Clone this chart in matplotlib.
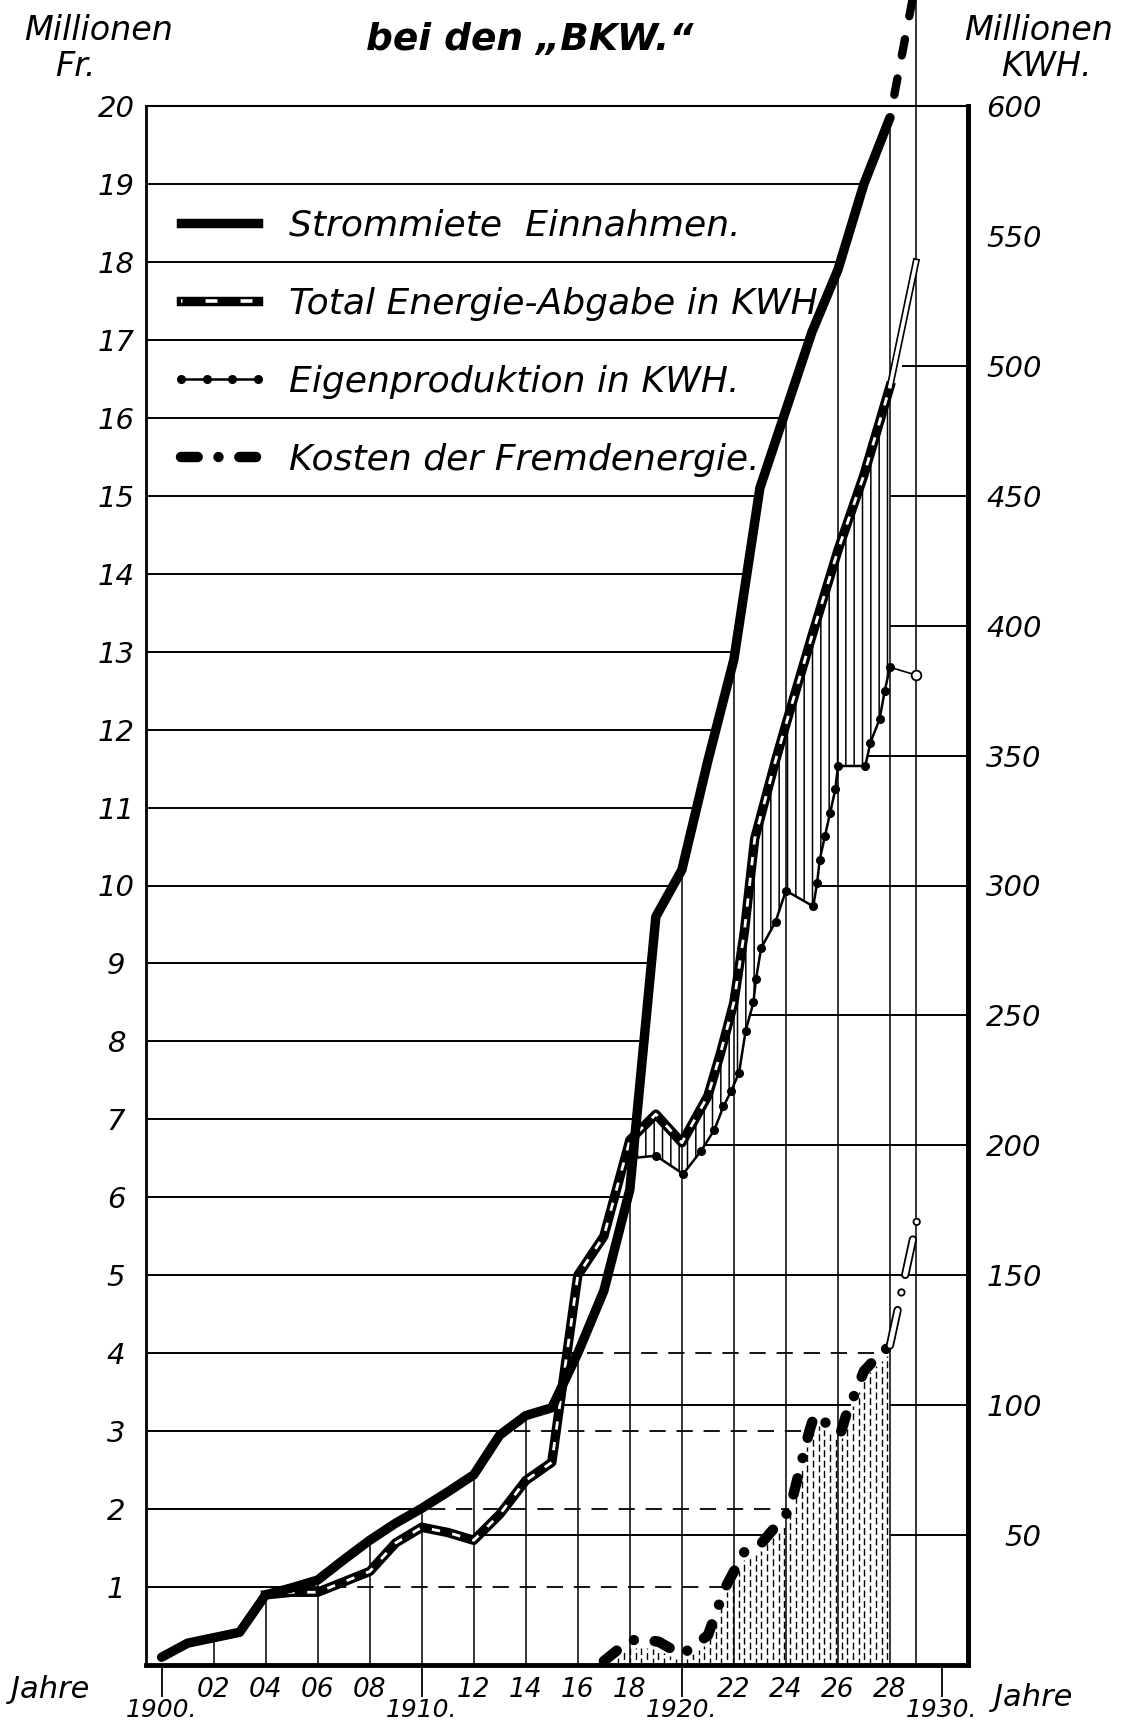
import numpy as np
import matplotlib as mpl
mpl.use('Agg')
import matplotlib.pyplot as plt
from matplotlib.lines import Line2D

# ---- values ----
# Strommiete Einnahmen (Mio. Fr.)
strom_years = list(range(1900, 1929))
strom_mfr = [0.10, 0.28, 0.35, 0.42, 0.90, 0.99, 1.09, 1.35, 1.60, 1.82,
             2.01, 2.22, 2.44, 2.95, 3.20, 3.30, 4.00, 4.80, 6.10, 9.60,
             10.20, 11.60, 12.90, 15.10, 16.10, 17.10, 17.90, 19.00, 19.85]
strom_est_year = 1929
strom_est_mfr = 21.6          # runs off the top of the sheet

# Total Energie-Abgabe (Mio. kWh)
total_years = [1904, 1905, 1906, 1907, 1908, 1909, 1910, 1911, 1912, 1913,
               1914, 1915, 1916, 1917, 1918, 1919, 1920, 1921, 1921.5, 1922,
               1922.4, 1922.8, 1923.6, 1924, 1925, 1926, 1927, 1928]
total_kwh = [27, 28, 28, 32, 36, 47, 53, 51, 48, 58,
             71, 78, 150, 165, 202, 212, 201, 219, 236, 255,
             282, 318, 348, 362, 396, 429, 458, 492]
total_est_year = 1929
total_est_kwh = 540

# Eigenproduktion (Mio. kWh)
eigen_years = [1918.0, 1919.0, 1920.05, 1920.75, 1921.25, 1921.6, 1921.9,
               1922.2, 1922.45, 1922.75, 1922.85, 1923.05, 1923.6, 1924.0,
               1925.05, 1925.2, 1925.3, 1925.5, 1925.7, 1925.9, 1926.0,
               1927.05, 1927.25, 1927.6, 1927.8, 1928.0]
eigen_kwh = [195, 196, 189, 198, 206, 215, 221,
             228, 244, 255, 264, 276, 286, 298,
             292, 301, 310, 319, 328, 337, 346,
             346, 355, 364, 375, 384]
eigen_est_year = 1929
eigen_est_kwh = 381

# Kosten der Fremdenergie (Mio. Fr.)
kost_years = [1917.0, 1918.0, 1918.6, 1919.1, 1920.0, 1920.5, 1921.0, 1921.65,
              1922.4, 1923.0, 1924.1, 1924.3, 1924.9, 1925.1, 1926.1, 1926.3,
              1927.0, 1927.5, 1928.0]
kost_mfr = [0.05, 0.32, 0.32, 0.30, 0.13, 0.26, 0.38, 0.98,
            1.45, 1.54, 1.97, 2.20, 3.00, 3.21, 2.97, 3.19,
            3.77, 3.95, 4.10]
kost_est_year = 1929.05
kost_est_mfr = 5.72

KWH_PER_FR = 30   # 20 Mio Fr. <-> 600 Mio kWh

fr_ticks = list(range(1, 21))
kwh_ticks = list(range(50, 601, 50))
x_major = [1900, 1910, 1920, 1930]
x_major_labels = ['1900.', '1910.', '1920.', '1930.']
x_minor = [1902, 1904, 1906, 1908, 1912, 1914, 1916, 1918,
           1922, 1924, 1926, 1928]
x_minor_labels = ['02', '04', '06', '08', '12', '14', '16', '18',
                  '22', '24', '26', '28']
grid_years = list(range(1902, 1929, 2))

legend_labels = ['Strommiete  Einnahmen.', 'Total Energie-Abgabe in KWH.',
                 'Eigenproduktion in KWH.', 'Kosten der Fremdenergie.']


def first_cross(xs, ys, level):
    for x0, x1, y0, y1 in zip(xs[:-1], xs[1:], ys[:-1], ys[1:]):
        if y0 < level <= y1:
            return x0 + (level - y0) / (y1 - y0) * (x1 - x0)
    return None


def last_cross(xs, ys, level):
    segs = list(zip(xs[:-1], xs[1:], ys[:-1], ys[1:]))
    for x0, x1, y0, y1 in reversed(segs):
        if y0 < level <= y1:
            return x0 + (level - y0) / (y1 - y0) * (x1 - x0)
    return None


plt.rcParams['font.family'] = 'DejaVu Sans'
plt.rcParams['font.style'] = 'italic'
plt.rcParams['hatch.linewidth'] = 1.1

fig = plt.figure(figsize=(11.27, 17.22), dpi=100)
ax = fig.add_axes([146 / 1127, 57 / 1722, 822 / 1127, 1559 / 1722])
ax.set_xlim(1899.4, 1931.0)
ax.set_ylim(0, 20)
x0, x1 = ax.get_xlim()

total_fr = np.array(total_kwh) / KWH_PER_FR
eigen_fr = np.array(eigen_kwh) / KWH_PER_FR

# horizontal rulings (Fr.) from the left edge up to the Strommiete curve
for lvl in fr_ticks[:-1]:
    xe = first_cross(strom_years, strom_mfr, lvl)
    ax.hlines(lvl, x0, xe, color='k', lw=1.4, zorder=1)

# dashed guides to the Kosten curve
for lvl in [1, 2, 3, 4]:
    xs = first_cross(strom_years, strom_mfr, lvl) + 0.35
    xe = first_cross(kost_years, kost_mfr, lvl)
    ax.hlines(lvl, xs, xe, color='k', lw=1.3, linestyles=(0, (9, 6)), zorder=1)

# horizontal rulings (kWh) from the right edge back to the kWh curves
low_years = [y for y in total_years if y < eigen_years[0]] + eigen_years
low_kwh = [v for y, v in zip(total_years, total_kwh) if y < eigen_years[0]] + eigen_kwh
for kwh in kwh_ticks[:-1]:
    if kwh <= eigen_kwh[-1]:
        xs = last_cross(low_years, low_kwh, kwh)
    elif kwh <= total_kwh[-1]:
        xs = eigen_years[-1]
    elif kwh <= total_est_kwh:
        xs = first_cross([total_years[-1], total_est_year],
                         [total_kwh[-1], total_est_kwh], kwh) + 0.3
    else:
        continue
    ax.hlines(kwh / KWH_PER_FR, xs, x1, color='k', lw=1.4, zorder=1)

# Kosten area: white ground + dashed vertical hatching
ax.fill_between(kost_years, 0, kost_mfr, color='white', lw=0, zorder=2)
hx = np.arange(kost_years[0] + 0.12, kost_years[-1], 0.22)
hy = np.interp(hx, kost_years, kost_mfr) - 0.1
ax.vlines(hx[::2], 0, hy[::2], color='k', lw=1.0, linestyles=(0, (5, 2.5)), zorder=2.5)
ax.vlines(hx[1::2], 0, hy[1::2], color='k', lw=1.0, linestyles=(3.5, (5, 2.5)), zorder=2.5)

# vertical rulings up to the Strommiete curve
ax.vlines(grid_years, 0, np.interp(grid_years, strom_years, strom_mfr),
          color='k', lw=1.1, zorder=3)
ax.axvline(1929, 0, 1.08, color='k', lw=1.1, clip_on=False, zorder=3)

# hatched gap between total and own production
hx2 = np.union1d(eigen_years, [y for y in total_years if eigen_years[0] <= y <= eigen_years[-1]])
top = np.interp(hx2, total_years, total_fr)
bot = np.interp(hx2, eigen_years, eigen_fr)
ax.fill_between(hx2, bot, top, facecolor='none', edgecolor='k', hatch='||', lw=0, zorder=2.6)

# Strommiete Einnahmen
ax.plot(strom_years, strom_mfr, color='k', lw=6.8, solid_joinstyle='round',
        solid_capstyle='round', zorder=6)
ax.plot([strom_years[-1], strom_est_year], [strom_mfr[-1], strom_est_mfr], color='k',
        lw=6, linestyle=(2, (2, 2.8)), dash_capstyle='round', clip_on=False, zorder=6)

# Total Energie-Abgabe
ax.plot(total_years, total_fr, color='k', lw=6.8, solid_joinstyle='round', zorder=5)
ax.plot(total_years, total_fr, color='white', lw=2.0, linestyle=(0, (3, 4.5)), zorder=5.1)
ax.plot([total_years[-1], total_est_year], [total_fr[-1], total_est_kwh / KWH_PER_FR],
        color='k', lw=5, zorder=5)
ax.plot([total_years[-1], total_est_year], [total_fr[-1], total_est_kwh / KWH_PER_FR],
        color='white', lw=2.6, zorder=5.1)

# Eigenproduktion
ax.plot(eigen_years, eigen_fr, color='k', lw=1.8, marker='o', ms=5.5, zorder=7)
ax.plot([eigen_years[-1], eigen_est_year], [eigen_fr[-1], eigen_est_kwh / KWH_PER_FR],
        color='k', lw=1.2, marker='o', markevery=[1], mfc='white', mec='k', ms=7,
        mew=1.3, zorder=7)

# Kosten der Fremdenergie
kost_style = (0, (1.6, 2.0, 0.001, 2.0))
ax.plot(kost_years, kost_mfr, color='k', lw=7.5, linestyle=kost_style,
        dash_capstyle='round', zorder=6)
ax.plot([kost_years[-1], kost_est_year], [kost_mfr[-1], kost_est_mfr], color='k', lw=6,
        linestyle=(0, (26 / 6, 13 / 6, 0.001, 13 / 6)), dash_capstyle='round', zorder=6)
ax.plot([kost_years[-1], kost_est_year], [kost_mfr[-1], kost_est_mfr], color='white', lw=3.4,
        linestyle=(0, (26 / 3.4, 13 / 3.4, 0.001, 13 / 3.4)), dash_capstyle='round', zorder=6.1)

# legend
h_strom = Line2D([], [], color='k', lw=6.8)
h_total = (Line2D([], [], color='k', lw=6.8),
           Line2D([], [], color='white', lw=2.6, linestyle=(2.9, (3.3, 6.4))))
h_eigen = Line2D([], [], color='k', lw=1.8, marker='o', ms=5.5)
h_kost = Line2D([], [], color='k', lw=7.5, linestyle=kost_style, dash_capstyle='round')
leg = ax.legend([h_strom, h_total, h_eigen, h_kost], legend_labels,
                loc='center left', bbox_to_anchor=(0.029, 0.848), frameon=False,
                fontsize=26, handlelength=2.75, handletextpad=0.55, labelspacing=1.22,
                numpoints=4, borderpad=0, borderaxespad=0)
leg.set_zorder(8)

# axes and ticks
ax.set_yticks(fr_ticks, [str(v) for v in fr_ticks])
ax.tick_params(axis='y', length=0, pad=21.6, labelsize=21)
for t in ax.get_yticklabels():
    t.set_ha('center')
ax.set_xticks(x_major, x_major_labels)
ax.set_xticks(x_minor, x_minor_labels, minor=True)
ax.tick_params(axis='x', which='major', length=23, width=1.3, pad=1, labelsize=18)
ax.tick_params(axis='x', which='minor', length=0, pad=8.5, labelsize=19)

sec = ax.secondary_yaxis('right', functions=(lambda v: v * KWH_PER_FR,
                                             lambda v: v / KWH_PER_FR))
sec.set_yticks(kwh_ticks, [str(v) for v in kwh_ticks])
sec.set_yticks([550], minor=True)
sec.tick_params(which='major', length=0, pad=53, labelsize=21)
sec.tick_params(which='minor', length=12, width=1.5, direction='inout')
for t in sec.get_yticklabels():
    t.set_ha('right')
sec.spines['right'].set_linewidth(3.5)

ax.spines['left'].set_linewidth(2)
ax.spines['top'].set_linewidth(1.5)
ax.spines['bottom'].set_linewidth(3.5)
ax.spines['right'].set_linewidth(3.5)

# headings
fig.text(99 / 1127, 1 - 30 / 1722, 'Millionen', ha='center', va='center', fontsize=24)
fig.text(75 / 1127, 1 - 66 / 1722, 'Fr.', ha='center', va='center', fontsize=24)
fig.text(1039 / 1127, 1 - 30 / 1722, 'Millionen', ha='center', va='center', fontsize=24)
fig.text(1046 / 1127, 1 - 66 / 1722, 'KWH.', ha='center', va='center', fontsize=24)
fig.text(530 / 1127, 1 - 40 / 1722, 'bei den \u201eBKW.\u201c', ha='center', va='center',
         fontsize=27, fontweight='bold')
fig.text(11 / 1127, 1 - 1690 / 1722, 'Jahre', ha='left', va='center', fontsize=22)
fig.text(994 / 1127, 1 - 1697 / 1722, 'Jahre', ha='left', va='center', fontsize=22)

fig.savefig('out.png', dpi=100)
plt.close('all')
